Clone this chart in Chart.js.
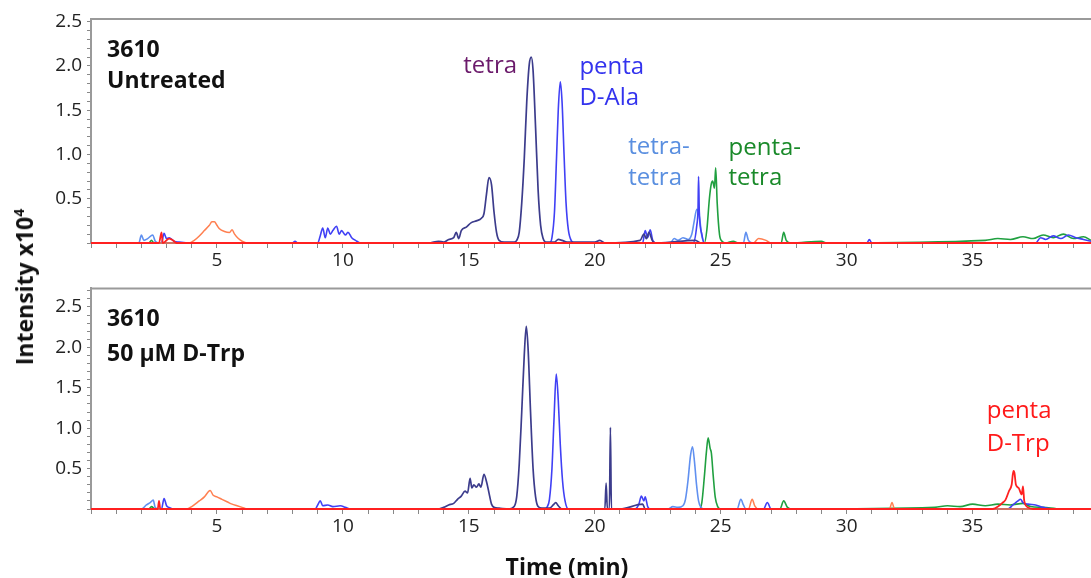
<!DOCTYPE html>
<html>
<head>
<meta charset="utf-8">
<script src="https://cdn.jsdelivr.net/npm/chart.js@4.4.1/dist/chart.umd.min.js"></script>
<style>
  html, body { margin: 0; padding: 0; background: #fff; }
  #wrap { position: relative; width: 1091px; height: 578px; overflow: hidden; font-family: "Open Sans", sans-serif; color: #111; }
  canvas { position: absolute; left: 0; }
  #top { top: 0; }
  #bot { top: 272px; }
  #ylab { position: absolute; left: 24px; top: 287px; transform: translate(-50%, -50%) rotate(-90deg); font-weight: bold; font-size: 23px; white-space: nowrap; }
  #ylab sup { font-size: 14px; }
  #xlab { position: absolute; left: 567px; top: 566px; transform: translate(-50%, -50%); font-weight: bold; font-size: 23px; white-space: nowrap; }
</style>
</head>
<body>
<div id="wrap">
  <canvas id="top" width="1091" height="272"></canvas>
  <canvas id="bot" width="1091" height="306"></canvas>
  <div id="ylab">Intensity x10<sup>4</sup></div>
  <div id="xlab">Time (min)</div>
</div>
<script>
// time (min), intensity (x10^4)

// top panel: 3610 untreated
const topTetra = [[0,0],[13.4,0],[13.8,0.02],[14.0,0.01],[14.2,0.04],[14.4,0.06],[14.5,0.12],[14.6,0.05],[14.7,0.14],[14.9,0.18],[15.1,0.23],[15.3,0.25],[15.5,0.28],[15.6,0.33],[15.7,0.55],[15.8,0.74],[15.9,0.66],[16.0,0.35],[16.1,0.12],[16.2,0.03],[16.4,0.01],[16.8,0.01],[16.9,0.03],[17.0,0.12],[17.1,0.45],[17.2,0.95],[17.3,1.6],[17.4,2.02],[17.48,2.1],[17.55,1.95],[17.65,1.3],[17.75,0.6],[17.85,0.2],[17.95,0.05],[18.05,0.01],[18.4,0.01],[18.55,0.04],[18.7,0.03],[18.9,0.01],[20.0,0.01],[20.2,0.03],[20.4,0],[21.8,0.03],[21.95,0.1],[22.05,0.05],[22.15,0.12],[22.3,0.02],[22.5,0],[24.0,0.03],[24.2,0],[39.7,0]];
const topPentaAla = [[0,0],[2.8,0],[2.9,0.11],[3.0,0.05],[3.1,0.06],[3.3,0.02],[3.5,0.01],[4.0,0],[8.0,0],[8.1,0.02],[8.2,0],[9.0,0],[9.1,0.08],[9.2,0.17],[9.3,0.06],[9.4,0.17],[9.5,0.1],[9.6,0.14],[9.75,0.19],[9.85,0.1],[9.95,0.14],[10.1,0.09],[10.2,0.12],[10.35,0.06],[10.5,0.03],[10.7,0],[18.2,0],[18.3,0.06],[18.4,0.35],[18.48,0.95],[18.55,1.5],[18.63,1.82],[18.7,1.6],[18.78,1.0],[18.86,0.45],[18.95,0.15],[19.08,0.02],[19.2,0],[21.9,0],[22.0,0.14],[22.1,0.06],[22.2,0.15],[22.3,0.03],[22.4,0],[23.9,0],[24.05,0.2],[24.1,0.4],[24.12,0.75],[24.15,0.35],[24.25,0.1],[24.35,0],[30.8,0],[30.9,0.04],[31.0,0],[37.5,0],[37.7,0.06],[37.9,0.04],[38.2,0.08],[38.5,0.05],[38.8,0.09],[39.1,0.06],[39.4,0.04],[39.7,0.02]];
const topTetraTetra = [[0,0],[1.9,0],[2.0,0.09],[2.1,0.03],[2.25,0.05],[2.45,0.09],[2.55,0.02],[2.7,0],[23.0,0],[23.15,0.05],[23.3,0.03],[23.5,0.06],[23.7,0.04],[23.85,0.1],[23.95,0.25],[24.05,0.38],[24.15,0.3],[24.25,0.08],[24.35,0],[25.9,0],[26.0,0.12],[26.1,0.03],[26.3,0],[39.7,0]];
const topPentaTetra = [[0,0],[2.3,0],[2.4,0.03],[2.5,0],[24.35,0],[24.45,0.15],[24.55,0.5],[24.62,0.66],[24.68,0.7],[24.75,0.62],[24.8,0.85],[24.86,0.45],[24.95,0.1],[25.05,0.02],[25.2,0],[25.5,0.02],[25.7,0],[27.4,0],[27.5,0.12],[27.6,0.03],[27.8,0],[29.0,0.02],[29.2,0],[35.5,0.03],[36.0,0.05],[36.5,0.04],[37.0,0.07],[37.4,0.05],[37.8,0.09],[38.2,0.06],[38.6,0.1],[39.0,0.05],[39.4,0.07],[39.7,0.03]];
const topOrange = [[0,0],[3.9,0],[4.1,0.03],[4.3,0.08],[4.5,0.14],[4.7,0.2],[4.8,0.24],[4.9,0.24],[5.0,0.2],[5.1,0.16],[5.3,0.13],[5.5,0.12],[5.6,0.15],[5.7,0.1],[5.85,0.05],[6.0,0.02],[6.2,0],[26.3,0],[26.5,0.05],[26.8,0.03],[27.0,0],[39.7,0]];
const topRed = [[0,0],[2.7,0],[2.8,0.12],[2.85,0],[3.1,0.05],[3.25,0.03],[3.4,0],[39.7,0]];

// bottom panel: 3610 + 50 uM D-Trp
const botTetra = [[0,0],[13.8,0],[14.0,0.02],[14.2,0.05],[14.4,0.07],[14.55,0.12],[14.7,0.16],[14.85,0.22],[14.95,0.2],[15.05,0.38],[15.12,0.26],[15.2,0.3],[15.3,0.27],[15.4,0.31],[15.48,0.27],[15.6,0.43],[15.7,0.34],[15.8,0.2],[15.9,0.06],[16.0,0.02],[16.2,0.01],[16.6,0],[16.8,0.03],[16.9,0.15],[17.0,0.55],[17.1,1.2],[17.2,1.9],[17.28,2.26],[17.35,2.0],[17.45,1.2],[17.55,0.5],[17.65,0.15],[17.75,0.03],[17.9,0.01],[18.2,0.01],[18.35,0.05],[18.45,0.08],[18.55,0.04],[18.7,0],[20.4,0],[20.45,0.32],[20.5,0],[20.58,0],[20.62,1.01],[20.66,0],[21.0,0],[21.9,0.06],[22.0,0],[39.7,0]];
const botPentaAla = [[0,0],[2.8,0],[2.9,0.13],[3.0,0.04],[3.1,0.02],[3.3,0],[8.9,0],[9.0,0.05],[9.1,0.1],[9.2,0.04],[9.4,0.05],[9.6,0.03],[9.9,0.04],[10.1,0.02],[10.3,0],[18.0,0],[18.1,0.02],[18.2,0.12],[18.3,0.5],[18.38,1.1],[18.47,1.67],[18.55,1.35],[18.63,0.8],[18.72,0.35],[18.82,0.1],[18.95,0],[21.6,0],[21.75,0.06],[21.85,0.16],[21.95,0.1],[22.0,0.15],[22.1,0.03],[22.2,0],[26.7,0],[26.85,0.08],[27.0,0],[36.4,0],[36.6,0.05],[36.8,0.1],[36.9,0.12],[37.0,0.08],[37.2,0.06],[37.5,0.05],[37.8,0.02],[38.2,0],[39.7,0]];
const botTetraTetra = [[0,0],[2.0,0],[2.2,0.05],[2.35,0.08],[2.47,0.11],[2.55,0.02],[2.7,0],[22.9,0],[23.1,0.03],[23.3,0.02],[23.5,0.04],[23.6,0.12],[23.7,0.35],[23.8,0.66],[23.88,0.77],[23.96,0.58],[24.04,0.3],[24.12,0.1],[24.22,0.02],[24.35,0],[25.65,0],[25.8,0.12],[25.9,0.05],[26.0,0],[39.7,0]];
const botPentaTetra = [[0,0],[2.3,0],[2.4,0.03],[2.55,0],[24.15,0],[24.25,0.08],[24.35,0.4],[24.43,0.7],[24.5,0.88],[24.58,0.75],[24.63,0.69],[24.7,0.42],[24.78,0.15],[24.88,0.03],[25.0,0],[27.35,0],[27.5,0.1],[27.65,0.02],[27.8,0],[33.5,0.02],[34.0,0.04],[34.5,0.03],[35.0,0.06],[35.5,0.04],[36.0,0.06],[36.5,0.05],[37.0,0.07],[37.3,0.03],[37.8,0.02],[38.5,0],[39.7,0]];
const botOrange = [[0,0],[3.8,0],[4.0,0.03],[4.3,0.1],[4.5,0.15],[4.65,0.21],[4.73,0.23],[4.85,0.17],[5.0,0.15],[5.2,0.12],[5.4,0.09],[5.6,0.06],[5.8,0.04],[6.0,0.02],[6.2,0],[26.1,0],[26.25,0.12],[26.35,0.04],[26.5,0],[31.7,0],[31.8,0.08],[31.9,0],[39.7,0]];
const botRed = [[0,0],[2.65,0],[2.7,0.1],[2.75,0],[35.8,0],[36.05,0.04],[36.2,0.08],[36.3,0.11],[36.44,0.22],[36.55,0.3],[36.62,0.47],[36.66,0.45],[36.72,0.3],[36.83,0.26],[36.95,0.18],[37.0,0.28],[37.05,0.1],[37.2,0.02],[37.4,0],[39.7,0]];

// labels placed in data units (time, intensity)
const topNotes = [
    { text: '3610', x: 0.64, y: 2.18, color: '#111', bold: true },
    { text: 'Untreated', x: 0.64, y: 1.82, color: '#111', bold: true },
    { text: 'tetra', x: 14.78, y: 2.0, color: '#6b1a6b' },
    { text: 'penta', x: 19.39, y: 1.99, color: '#3333ee' },
    { text: 'D-Ala', x: 19.39, y: 1.64, color: '#3333ee' },
    { text: 'tetra-', x: 21.33, y: 1.08, color: '#5a8fe0' },
    { text: 'tetra', x: 21.33, y: 0.73, color: '#5a8fe0' },
    { text: 'penta-', x: 25.31, y: 1.07, color: '#1a8a2a' },
    { text: 'tetra', x: 25.31, y: 0.73, color: '#1a8a2a' }
];
const botNotes = [
    { text: '3610', x: 0.64, y: 2.34, color: '#111', bold: true },
    { text: '50 µM D-Trp', x: 0.64, y: 1.91, color: '#111', bold: true },
    { text: 'penta', x: 35.56, y: 1.21, color: '#ff1a1a' },
    { text: 'D-Trp', x: 35.56, y: 0.8, color: '#ff1a1a' }
];

const xMin = 0, xMax = 39.7;

function toPts(arr) {
    return arr.map(p => ({ x: p[0], y: p[1] }));
}

function line(data, color, width) {
    return {
        data: toPts(data),
        borderColor: color,
        borderWidth: width,
        pointRadius: 0,
        fill: false,
        cubicInterpolationMode: 'monotone',
        clip: 3
    };
}

const panelPlugin = {
    id: 'panel',
    afterDatasetsDraw(chart) {
        let ctx = chart.ctx;
        let area = chart.chartArea;
        ctx.save();
        ctx.strokeStyle = '#9a9a9a';
        ctx.lineWidth = 2;
        ctx.beginPath();
        ctx.moveTo(area.left, area.top);
        ctx.lineTo(area.right, area.top);
        ctx.stroke();
        let notes = chart.options.plugins.panel.notes;
        ctx.textBaseline = 'middle';
        ctx.textAlign = 'left';
        notes.forEach(n => {
            ctx.font = (n.bold ? 'bold 23px' : '24px') + ' "Open Sans", sans-serif';
            ctx.fillStyle = n.color;
            ctx.fillText(n.text, chart.scales.x.getPixelForValue(n.x), chart.scales.y.getPixelForValue(n.y));
        });
        ctx.restore();
    }
};

function makeChart(id, series, yMax, padTop, xHeight, notes) {
    let ctx = document.getElementById(id).getContext('2d');
    return new Chart(ctx, {
        type: 'line',
        data: {
            datasets: [
                line(series.red, '#ff2020', 1.8),
                line(series.orange, '#ff7f50', 1.5),
                line(series.tetra, '#3c3c8c', 1.7),
                line(series.pentaAla, '#4040f5', 1.6),
                line(series.tetraTetra, '#6090f0', 1.6),
                line(series.pentaTetra, '#20a040', 1.6)
            ]
        },
        plugins: [panelPlugin],
        options: {
            responsive: false,
            animation: false,
            devicePixelRatio: 1,
            layout: { padding: { top: padTop, left: 0, right: 0, bottom: 0 } },
            plugins: {
                legend: { display: false },
                tooltip: { enabled: false },
                panel: { notes: notes }
            },
            scales: {
                x: {
                    type: 'linear',
                    min: xMin,
                    max: xMax,
                    afterFit: s => { s.height = xHeight; },
                    border: { color: '#9a9a9a', width: 2 },
                    grid: { drawOnChartArea: false, tickLength: 5, color: '#888' },
                    ticks: {
                        stepSize: 1,
                        autoSkip: false,
                        includeBounds: false,
                        maxRotation: 0,
                        padding: 1,
                        color: '#222',
                        font: { family: 'Open Sans', size: 19 },
                        callback: v => (v > 0 && Math.abs(v - Math.round(v / 5) * 5) < 1e-6) ? Math.round(v) : ''
                    }
                },
                y: {
                    min: 0,
                    max: yMax,
                    afterFit: s => { s.width = 91; },
                    border: { color: '#9a9a9a', width: 2 },
                    grid: { drawOnChartArea: false, tickLength: 4, color: '#888' },
                    ticks: {
                        stepSize: 0.1,
                        autoSkip: false,
                        includeBounds: false,
                        padding: 5,
                        color: '#222',
                        font: { family: 'Open Sans', size: 19 },
                        callback: v => (v > 0.01 && Math.abs(v * 2 - Math.round(v * 2)) < 1e-6) ? v.toFixed(1) : ''
                    }
                }
            }
        }
    });
}

let topChart = makeChart('top', {
    red: topRed, orange: topOrange, tetra: topTetra,
    pentaAla: topPentaAla, tetraTetra: topTetraTetra, pentaTetra: topPentaTetra
}, 2.53, 19, 29, topNotes);

let botChart = makeChart('bot', {
    red: botRed, orange: botOrange, tetra: botTetra,
    pentaAla: botPentaAla, tetraTetra: botTetraTetra, pentaTetra: botPentaTetra
}, 2.73, 13, 69, botNotes);
</script>
</body>
</html>
